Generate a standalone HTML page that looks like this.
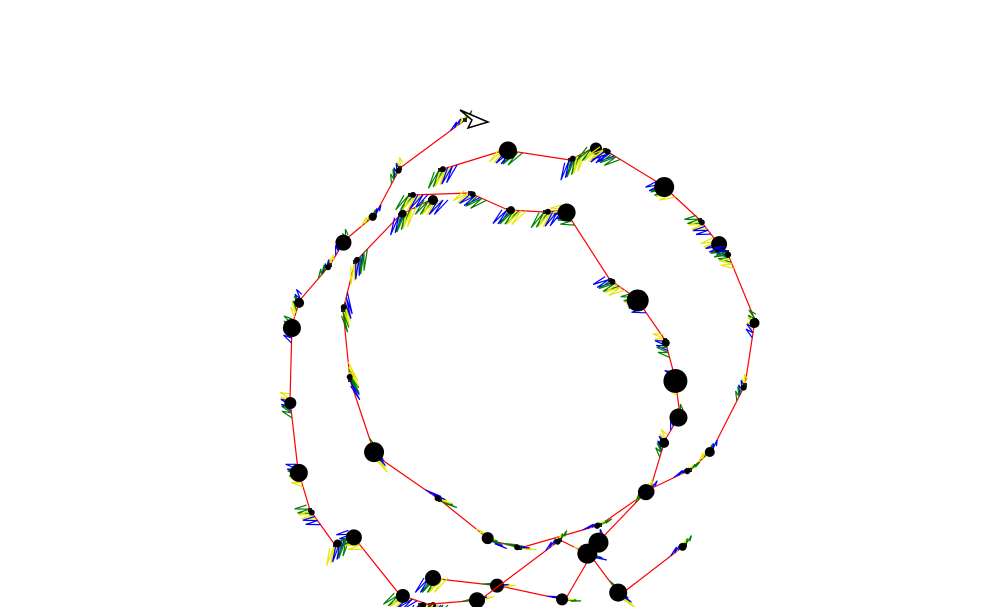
<!DOCTYPE html>
<html><head><meta charset="utf-8"><style>
html,body{margin:0;padding:0;background:#fff;width:1003px;height:607px;overflow:hidden}
svg{display:block}
</style></head><body>
<svg id="chart" width="1003" height="607" viewBox="0 0 1003 607"></svg>
<script>
// chain x/y coordinates (path nodes), dot radius per node
const chainAX=[465,400,375,345,330,300,292,290,298,310,335,352,400,430];
const chainAY=[120,168,215,240,265,300,325,400,470,510,545,535,595,605];
const chainAR=[0,3,4,8,3,5,9,6,9,3,4,8,7,3];
const chainBX=[410,470,508,545,565,610,636,665,675,680,665,650,600,520,490,440,375,350,343,355,400,430];
const chainBY=[195,193,210,212,210,280,298,340,378,415,440,490,525,548,540,500,455,380,310,262,215,200];
const chainBR=[3,3,4,3,9,3,11,4,12,9,5,7,3,3,6,3,10,3,3,3,4,5];
const chainCX=[440,505,570,593,605,662,700,717,727,755,745,712,690,648,600,565,500,430];
const chainCY=[170,150,160,148,150,185,220,242,252,320,385,450,470,490,540,600,586,578];
const chainCR=[3,9,3,6,3,10,3,8,3,5,3,5,3,8,10,6,7,8];
const chainDX=[685,620,590,560,480,420];
const chainDY=[545,595,555,540,600,605];
const chainDR=[4,9,10,3,8,3];
const zigColors=["green","#e6e600","blue"];

const svg=document.getElementById('chart');
const NS='http://www.w3.org/2000/svg';
function mk(t,a){const e=document.createElementNS(NS,t);for(const k in a)e.setAttribute(k,a[k]);svg.appendChild(e);return e;}
function drawChain(xs,ys,rs,name){
  for(let i=1;i<xs.length;i++){
    const l=mk('line',{x1:xs[i-1],y1:ys[i-1],x2:xs[i],y2:ys[i],stroke:'red','stroke-width':1.2});
    
    
  }
  for(let i=0;i<xs.length;i++){
    const x=xs[i],y=ys[i];
    const nx=i<xs.length-1?xs[i+1]:xs[i]+10, ny=i<xs.length-1?ys[i+1]:ys[i];
    let dx=nx-x,dy=ny-y;const L=Math.hypot(dx,dy)||1;dx/=L;dy/=L;
    // perpendicular (rotated 90° clockwise in screen coords -> "below" direction)
    const px=-dy, py=dx;
    for(let c=0;c<3;c++){
      const bx=x+dx*(4+c*7), by=y+dy*(4+c*7);
      let pts=[];
      for(let k=0;k<5;k++){
        const a=(k%2)?14:0;
        pts.push((bx-dx*k*2.5+px*a*0.6 - dx*a*0.8).toFixed(1)+','+(by-dy*k*2.5+py*a*0.6 - dy*a*0.8 + (k%2?6:0)).toFixed(1));
      }
      const z=mk('polyline',{points:pts.join(' '),fill:'none',stroke:zigColors[(i+c)%3],'stroke-width':1.2});
      
      
    }
    const q=mk('rect',{x:x-2,y:y-2,width:4,height:4,fill:'#222'});
    
    
    if(rs[i]>0){
      const d=mk('circle',{cx:x+dx*3,cy:y+dy*3,r:rs[i],fill:'#000'});
      
      
    }
  }
}
drawChain(chainAX,chainAY,chainAR,'inner-loop');
drawChain(chainBX,chainBY,chainBR,'middle-loop');
drawChain(chainCX,chainCY,chainCR,'outer-loop');
drawChain(chainDX,chainDY,chainDR,'bottom-loop');
const t=mk('polygon',{points:'460,110 488,122 468,128 472,120',fill:'#fff',stroke:'#000','stroke-width':1.5});


</script>
</body></html>
